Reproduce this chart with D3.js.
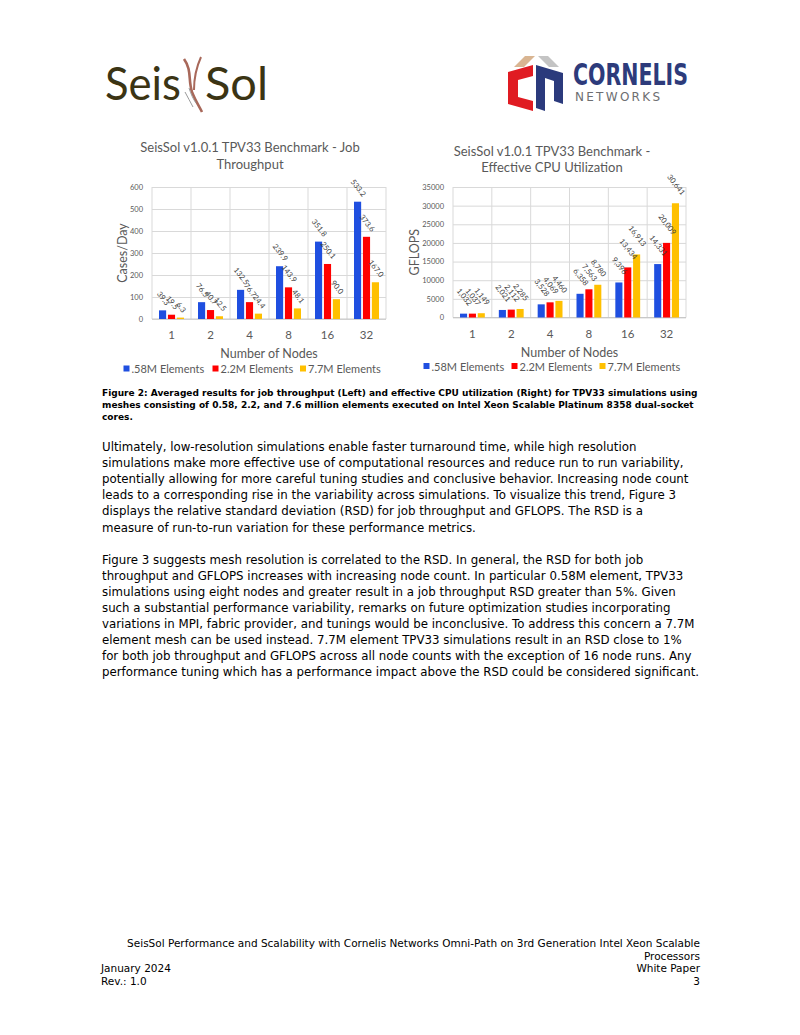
<!DOCTYPE html>
<html><head><meta charset="utf-8">
<script src="https://cdn.jsdelivr.net/npm/d3@7"></script>
<style>body{margin:0;background:#fff}svg{display:block}</style>
</head><body>
<script>
// ---------- data ----------
const nodes = ["1", "2", "4", "8", "16", "32"];
const seriesNames = [".58M Elements", "2.2M Elements", "7.7M Elements"];
const seriesColors = ["#1f4fe0", "#ff0000", "#ffc000"];
const throughput058 = [39.3, 76.5, 132.5, 239.9, 351.8, 533.2];
const throughput22 = [19.5, 40.7, 76.7, 143.9, 250.1, 373.6];
const throughput77 = [6.3, 12.5, 24.4, 48.1, 90.0, 167.0];
const gflops058 = [1032, 2021, 3528, 6358, 9396, 14331];
const gflops22 = [1037, 2112, 4069, 7563, 13434, 20009];
const gflops77 = [1149, 2285, 4460, 8780, 16913, 30641];
const throughputTicks = [0, 100, 200, 300, 400, 500, 600];
const gflopsTicks = [0, 5000, 10000, 15000, 20000, 25000, 30000, 35000];

const captionLines = [
  "Figure 2: Averaged results for job throughput (Left) and effective CPU utilization (Right) for TPV33 simulations using",
  "meshes consisting of 0.58, 2.2, and 7.6 million elements executed on Intel Xeon Scalable Platinum 8358 dual-socket",
  "cores."
];
const para1 = [
  "Ultimately, low-resolution simulations enable faster turnaround time, while high resolution",
  "simulations make more effective use of computational resources and reduce run to run variability,",
  "potentially allowing for more careful tuning studies and conclusive behavior. Increasing node count",
  "leads to a corresponding rise in the variability across simulations. To visualize this trend, Figure 3",
  "displays the relative standard deviation (RSD) for job throughput and GFLOPS. The RSD is a",
  "measure of run-to-run variation for these performance metrics."
];
const para2 = [
  "Figure 3 suggests mesh resolution is correlated to the RSD. In general, the RSD for both job",
  "throughput and GFLOPS increases with increasing node count. In particular 0.58M element, TPV33",
  "simulations using eight nodes and greater result in a job throughput RSD greater than 5%. Given",
  "such a substantial performance variability, remarks on future optimization studies incorporating",
  "variations in MPI, fabric provider, and tunings would be inconclusive. To address this concern a 7.7M",
  "element mesh can be used instead. 7.7M element TPV33 simulations result in an RSD close to 1%",
  "for both job throughput and GFLOPS across all node counts with the exception of 16 node runs. Any",
  "performance tuning which has a performance impact above the RSD could be considered significant."
];

// ---------- page ----------
const W = 800, H = 1035;
const svg = d3.select("body").append("svg").attr("width", W).attr("height", H);
svg.append("rect").attr("width", W).attr("height", H).attr("fill", "#fff");

// SeisSol logo
const logo = svg.append("g");
logo.append("text").attr("x", 105).attr("y", 100).attr("font-family", "Lato, sans-serif")
  .attr("font-size", 47).attr("fill", "#3b3414").attr("textLength", 76).attr("lengthAdjust", "spacingAndGlyphs").text("Seis");
logo.append("text").attr("x", 205).attr("y", 100).attr("font-family", "Lato, sans-serif")
  .attr("font-size", 47).attr("fill", "#3b3414").attr("textLength", 63).attr("lengthAdjust", "spacingAndGlyphs").text("Sol");
logo.append("path").attr("d", "M184,59 C192,70 188,80 192,92 C195,100 199,106 202,112")
  .attr("fill", "none").attr("stroke", "#a8685a").attr("stroke-width", 2.6);
logo.append("path").attr("d", "M201,57 C196,68 194,78 194,90").attr("fill", "none").attr("stroke", "#a8685a").attr("stroke-width", 2);
logo.append("path").attr("d", "M185,92 C188,97 190,102 193,107").attr("fill", "none").attr("stroke", "#9a9a9a").attr("stroke-width", 1);
logo.append("path").attr("d", "M189,88 C191,94 193,99 196,103").attr("fill", "none").attr("stroke", "#9a9a9a").attr("stroke-width", 1);

// Cornelis logo
const cl = svg.append("g");
cl.append("polygon").attr("points", "514,67 525,56 535,56 524,67").attr("fill", "#d9b592");
cl.append("polygon").attr("points", "538,56 548,56 559,67 549,67").attr("fill", "#c4c4c4");
cl.append("polygon").attr("points", "508,72 533,65 533,76 518,80 518,97 533,101 533,111 508,104").attr("fill", "#e01b22");
cl.append("polygon").attr("points", "536,65 563,73 563,104 554,101 554,81 545,78 545,111 536,108").attr("fill", "#2b3a7c");
cl.append("text").attr("x", 573).attr("y", 85).attr("font-family", "'DejaVu Sans Condensed', 'DejaVu Sans', sans-serif")
  .attr("font-weight", "bold").attr("font-size", 30).attr("fill", "#2d3b7b")
  .attr("textLength", 115).attr("lengthAdjust", "spacingAndGlyphs").text("CORNELIS");
cl.append("text").attr("x", 575).attr("y", 101).attr("font-family", "'DejaVu Sans', sans-serif")
  .attr("font-size", 12).attr("fill", "#6d6e71")
  .attr("textLength", 85).attr("lengthAdjust", "spacing").text("NETWORKS");

// ---------- charts ----------
function drawChart(cfg) {
  const g = svg.append("g");
  const x = d3.scaleBand().domain(nodes).range([cfg.x0, cfg.x1]).padding(0);
  const xs = d3.scaleBand().domain(d3.range(3)).range([7, x.bandwidth() - 7]).paddingInner(0.2);
  const y = d3.scaleLinear().domain([0, d3.max(cfg.ticks)]).range([cfg.yb, cfg.yt]);

  const ya = d3.axisLeft(y).tickValues(cfg.ticks).tickFormat(d3.format("d")).tickSize(-(cfg.x1 - cfg.x0)).tickPadding(9);
  const ag = g.append("g").attr("transform", `translate(${cfg.x0},0)`).call(ya);
  ag.select(".domain").remove();
  ag.selectAll(".tick line").attr("stroke", "#d9d9d9").attr("stroke-width", 1);
  ag.selectAll(".tick text").attr("font-family", "Lato, sans-serif").attr("font-size", 7.5).attr("fill", "#595959");
  const bounds = nodes.map(n => x(n)).concat([cfg.x1]);
  g.selectAll(".vg").data(bounds).join("line")
    .attr("x1", d => d).attr("x2", d => d).attr("y1", cfg.yt).attr("y2", cfg.yb)
    .attr("stroke", "#d9d9d9");
  g.append("line").attr("x1", cfg.x0).attr("x2", cfg.x1).attr("y1", y(0)).attr("y2", y(0)).attr("stroke", "#c8c8c8");

  const sets = cfg.series;
  sets.forEach((vals, si) => {
    g.selectAll(null).data(vals).join("rect")
      .attr("x", (d, i) => x(nodes[i]) + xs(si))
      .attr("width", xs.bandwidth())
      .attr("y", d => y(d))
      .attr("height", d => y(0) - y(d))
      .attr("fill", seriesColors[si]);
  });
  const ang = 52, rad = ang * Math.PI / 180, fs = 7.6;
  sets.forEach((vals, si) => {
    vals.forEach((v, i) => {
      const cx = x(nodes[i]) + xs(si) + xs.bandwidth() / 2 + 1;
      const t = g.append("text").attr("font-family", "Lato, sans-serif").attr("font-size", fs)
        .attr("fill", "#404040").attr("text-anchor", "middle").attr("dominant-baseline", "central")
        .text(cfg.fmt(v));
      const L = t.node().getComputedTextLength();
      const half = (L / 2) * Math.sin(rad) + (fs / 2) * Math.cos(rad);
      const cy = y(v) - cfg.gap - half;
      t.attr("transform", `translate(${cx},${cy}) rotate(${ang})`);
    });
  });
  g.selectAll(null).data(nodes).join("text")
    .attr("x", d => x(d) + x.bandwidth() / 2).attr("y", cfg.xtickY)
    .attr("text-anchor", "middle").attr("dominant-baseline", "central")
    .attr("font-family", "Lato, sans-serif").attr("font-size", 11.5).attr("fill", "#595959").text(d => d);
  g.append("text").attr("x", (cfg.x0 + cfg.x1) / 2).attr("y", cfg.xtitleY)
    .attr("text-anchor", "middle").attr("dominant-baseline", "central")
    .attr("font-family", "Lato, sans-serif").attr("font-size", 12.5).attr("fill", "#595959").text("Number of Nodes");
  g.append("text").attr("transform", `translate(${cfg.ytitleX},${(cfg.yt + cfg.yb) / 2}) rotate(-90)`)
    .attr("text-anchor", "middle").attr("dominant-baseline", "central")
    .attr("font-family", "Lato, sans-serif").attr("font-size", 12.5).attr("fill", "#595959").text(cfg.ytitle);
  cfg.title.forEach((line, i) => {
    g.append("text").attr("x", cfg.titleX).attr("y", cfg.titleY + i * 16.5)
      .attr("text-anchor", "middle").attr("dominant-baseline", "central")
      .attr("font-family", "Lato, sans-serif").attr("font-size", 13).attr("fill", "#595959").text(line);
  });
  cfg.legendX.forEach((lx, si) => {
    g.append("rect").attr("x", lx).attr("y", cfg.legendY - 3).attr("width", 6).attr("height", 6).attr("fill", seriesColors[si]);
    g.append("text").attr("x", lx + 8).attr("y", cfg.legendY).attr("dominant-baseline", "central")
      .attr("font-family", "Lato, sans-serif").attr("font-size", 11).attr("fill", "#595959").text(seriesNames[si]);
  });
}

drawChart({
  x0: 152, x1: 386, yt: 187, yb: 319, ticks: throughputTicks, gap: 4,
  series: [throughput058, throughput22, throughput77], fmt: d3.format(".1f"),
  xtickY: 334, xtitleY: 353, ytitleX: 122, ytitle: "Cases/Day",
  title: ["SeisSol v1.0.1 TPV33 Benchmark - Job", "Throughput"], titleX: 250, titleY: 147,
  legendX: [123.5, 212.5, 300], legendY: 368.5
});
drawChart({
  x0: 453, x1: 686, yt: 187, yb: 317.5, ticks: gflopsTicks, gap: 7,
  series: [gflops058, gflops22, gflops77], fmt: d3.format(","),
  xtickY: 333, xtitleY: 352, ytitleX: 414, ytitle: "GFLOPS",
  title: ["SeisSol v1.0.1 TPV33 Benchmark -", "Effective CPU Utilization"], titleX: 552, titleY: 150.5,
  legendX: [423.5, 511.5, 599.5], legendY: 366
});

// caption
captionLines.forEach((t, i) => {
  svg.append("text").attr("x", 102).attr("y", 395.5 + i * 12.3)
    .attr("font-family", "'DejaVu Sans', Verdana, sans-serif").attr("font-weight", "bold")
    .attr("font-size", 9).attr("fill", "#000").text(t);
});
// body paragraphs
const pitch = 16.1;
para1.forEach((t, i) => {
  svg.append("text").attr("x", 102).attr("y", 451 + i * pitch)
    .attr("font-family", "'DejaVu Sans', Verdana, sans-serif").attr("font-size", 11.8).attr("fill", "#000").text(t);
});
para2.forEach((t, i) => {
  svg.append("text").attr("x", 102).attr("y", 451 + (i + 7) * pitch)
    .attr("font-family", "'DejaVu Sans', Verdana, sans-serif").attr("font-size", 11.8).attr("fill", "#000").text(t);
});
// footer
const foot = [
  {t: "SeisSol Performance and Scalability with Cornelis Networks Omni-Path on 3rd Generation Intel Xeon Scalable", x: 700, a: "end", y: 947},
  {t: "Processors", x: 700, a: "end", y: 959.5},
  {t: "January 2024", x: 101, a: "start", y: 972},
  {t: "White Paper", x: 700, a: "end", y: 972},
  {t: "Rev.: 1.0", x: 101, a: "start", y: 985},
  {t: "3", x: 700, a: "end", y: 985}
];
foot.forEach(f => {
  svg.append("text").attr("x", f.x).attr("y", f.y).attr("text-anchor", f.a)
    .attr("font-family", "'DejaVu Sans', Verdana, sans-serif").attr("font-size", 10.5).attr("fill", "#000").text(f.t);
});
</script>
</body></html>
